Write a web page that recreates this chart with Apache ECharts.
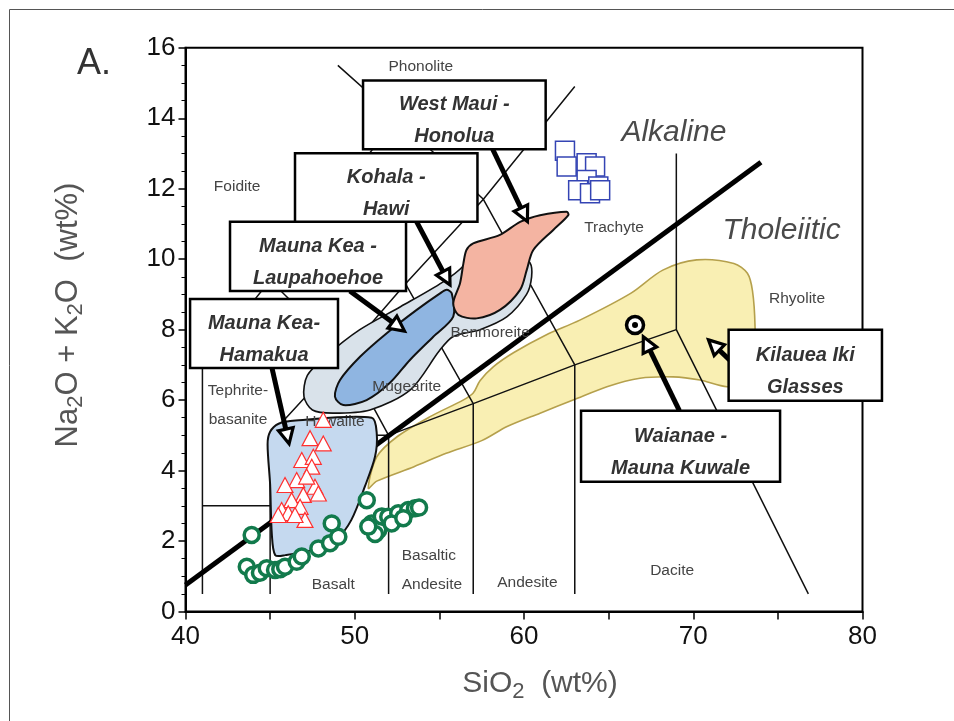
<!DOCTYPE html>
<html><head><meta charset="utf-8">
<script src="https://cdn.jsdelivr.net/npm/echarts@6/dist/echarts.min.js"></script>
<style>html,body{margin:0;padding:0;background:#fff}#c{width:954px;height:721px}</style>
</head><body><div id="c"></div><script>
// ---------- DATA (SiO2 wt%, Na2O+K2O wt%) ----------
const xTicks = [40, 50, 60, 70, 80];
const yTicks = [0, 2, 4, 6, 8, 10, 12, 14, 16];

// TAS classification boundaries
const tasLines = [
  [[41,0.5],[41,7],[45,9.4]],
  [[41,3],[45,3]],
  [[45,0.5],[45,5],[52,5]],
  [[45,5],[49.4,7.3],[52,5]],
  [[52,0.5],[52,5],[57,5.9],[63,7],[69,8],[76.8,0.5]],
  [[57,0.5],[57,5.9],[53,9.3],[57.6,11.7],[63,14.9]],
  [[63,0.5],[63,7],[57.6,11.7],[52.5,14],[49,15.5]],
  [[45,9.4],[49.4,7.3],[53,9.3]],
  [[45,9.4],[48.4,11.5],[53,9.3]],
  [[48.4,11.5],[52.5,14]],
  [[69,8],[69,13]]
];
const alkalineDivide = [[40,0.75],[74,12.75]];

// compositional fields
const kilaueaField = [[50.8,3.5],[51.3,4.39],[52.5,4.96],[54.45,5.53],[56.4,6.0],[57.0,6.2],[57.4,6.55],[58.2,6.95],[59.4,7.35],[61.3,7.85],[63.3,8.27],[66.3,9.03],[68.2,9.69],[70.2,9.98],[72.4,9.88],[73.2,9.6],[73.5,9.1],[73.65,8.1],[73.6,7.0],[73.2,6.5],[72.0,6.38],[70.4,6.57],[68.8,6.66],[66.85,6.62],[64.9,6.38],[62.9,6.0],[60.95,5.63],[59.0,5.25],[57.5,4.85],[55.4,4.49],[53.5,4.11],[51.3,3.7]];
const laupahoehoeEnvelope = [[47.2,6.7],[47.0,6.1],[47.5,5.72],[48.7,5.63],[50.9,5.72],[53.3,6.3],[55.0,7.4],[55.8,7.8],[57.4,8.0],[59.0,8.37],[60.15,9.0],[60.45,9.5],[60.35,9.9],[59.5,10.2],[57.0,10.25],[56.4,9.8],[55.2,9.35],[52.7,8.65],[50.3,8.0],[48.3,7.25]];
const laupahoehoeField = [[55.43,9.13],[55.73,9.03],[55.82,8.37],[54.64,7.8],[53.26,7.14],[52.08,6.49],[50.7,6.0],[49.32,5.86],[48.83,6.1],[49.13,6.57],[50.31,7.23],[51.89,7.9],[53.66,8.56],[55.04,9.03]];
const honoluaField = [[56.6,10.26],[57.0,10.45],[58.58,10.69],[59.77,11.06],[60.95,11.25],[62.52,11.35],[62.62,11.25],[61.73,10.83],[60.55,10.26],[60.16,9.69],[59.77,9.13],[58.58,8.56],[57.2,8.32],[56.12,8.42],[55.82,8.75],[56.22,9.32],[56.42,9.88]];
const hamakuaField = [[44.85,4.75],[45.0,5.1],[45.5,5.33],[46.5,5.42],[51.0,5.5],[51.3,5.05],[51.2,4.4],[50.6,3.55],[49.8,2.6],[49.0,2.1],[47.5,1.75],[45.9,1.6],[45.3,1.6],[45.1,2.2],[45.0,3.6]];

// samples
const redTriangles = [[48.14,5.44],[47.36,4.92],[48.14,4.77],[46.87,4.3],[47.55,4.39],[47.46,4.11],[46.57,3.73],[47.65,3.54],[45.88,3.59],[46.96,3.31],[46.27,3.16],[46.77,2.97],[45.68,2.88],[46.07,2.79],[47.06,2.6],[45.48,2.74],[47.85,3.35],[47.16,3.83],[46.47,2.74]];
const greenCircles = [[43.91,2.17],[43.62,1.27],[44.0,1.04],[44.4,1.1],[44.8,1.23],[45.29,1.18],[45.6,1.2],[45.88,1.27],[46.57,1.41],[46.87,1.56],[47.85,1.79],[48.54,1.94],[49.03,2.12],[48.64,2.5],[50.71,3.16],[51.0,2.5],[51.49,2.5],[51.39,2.31],[51.2,2.2],[51.6,2.7],[51.98,2.69],[52.57,2.79],[53.16,2.88],[53.56,2.93],[53.8,2.95],[50.8,2.41],[52.18,2.5],[52.87,2.65]];
const blueSquares = [[62.42,13.08],[62.52,12.63],[63.7,12.72],[64.2,12.63],[63.7,12.25],[63.2,11.96],[64.39,12.06],[63.9,11.87],[64.5,11.96]];
const waianaeGlass = [[66.56,8.13]];

// region names
const regionNames = ['Phonolite','Foidite','Trachyte','Rhyolite','Tephrite-','basanite','Hawaiite','Mugearite','Benmoreite','Basalt','Basaltic','Andesite','Andesite','Dacite'];
const regionAt = [[53.9,15.46],[43.05,12.05],[65.32,10.88],[76.13,8.87],[43.1,6.26],[43.1,5.44],[48.83,5.39],[53.07,6.38],[58.0,7.91],[48.73,0.75],[54.38,1.59],[54.56,0.76],[60.2,0.81],[68.75,1.15]];
const seriesNames = ['Alkaline','Tholeiitic'];
const seriesNameAt = [[68.86,13.6],[75.22,10.8]];

// annotation boxes: [xmin, xmax, ymin, ymax] in data units, and their texts
const boxTexts = [['Mauna Kea-','Hamakua'],['Mauna Kea -','Laupahoehoe'],['Kohala -','Hawi'],['West Maui -','Honolua'],['Kilauea Iki','Glasses'],['Waianae -','Mauna Kuwale']];
const boxAt = [[40.27,49.01,6.91,8.87],[42.63,53.03,9.1,11.06],[46.47,57.25,11.06,13.01],[50.49,61.28,13.12,15.07],[72.09,81.15,5.98,8.0],[63.37,75.13,3.68,5.7]];
// arrows: [fromX, fromY, toX, toY]
const arrowsAt = [[45.11,6.91,46.12,4.76],[49.71,9.1,52.94,7.96],[53.66,11.06,55.63,9.27],[58.15,13.12,60.2,11.07],[69.18,5.7,67.05,7.8],[72.3,7.07,70.9,7.71]];

// ---------- STYLE ----------
const FONT = '"Liberation Sans", Arial, Helvetica, sans-serif';
const fieldStyles = [
  {fill:'#d9e2ea', stroke:'#111', lw:1.6},
  {fill:'#8fb5e1', stroke:'#111', lw:2},
  {fill:'#f4b4a2', stroke:'#111', lw:2},
  {fill:'#c5d9ef', stroke:'#111', lw:2}
];
const upperFields = [laupahoehoeEnvelope, laupahoehoeField, honoluaField, hamakuaField];

const chart = echarts.init(document.getElementById('c'), null, {renderer:'canvas'});

const series = [];
// yellow field (below lines)
series.push({
  type:'custom', z:2, silent:true, clip:false,
  data:[kilaueaField[0]],
  renderItem:(p, api) => ({type:'polygon', shape:{points:kilaueaField.map(q=>api.coord(q)), smooth:0.3},
    style:{fill:'#f9efb3', stroke:'#b5a04c', lineWidth:1.6}})
});
tasLines.forEach(l => series.push({
  type:'line', z:3, silent:true, data:l, symbol:'none', animation:false,
  lineStyle:{color:'#111', width:1.5}
}));
series.push({type:'line', z:4, silent:true, data:alkalineDivide, symbol:'none', lineStyle:{color:'#000', width:5}});
series.push({
  type:'custom', z:5, silent:true, clip:false,
  data:upperFields.map(f=>f[0]),
  renderItem:(p, api) => {
    const f = upperFields[p.dataIndex], s = fieldStyles[p.dataIndex];
    return {type:'polygon', shape:{points:f.map(q=>api.coord(q)), smooth:0.3},
      style:{fill:s.fill, stroke:s.stroke, lineWidth:s.lw}};
  }
});
series.push({
  type:'custom', z:6, silent:true, clip:false,
  data:regionAt,
  renderItem:(p, api) => {
    const c = api.coord(regionAt[p.dataIndex]);
    return {type:'text', x:c[0], y:c[1], style:{text:regionNames[p.dataIndex], fill:'#444',
      font:'15.5px ' + FONT, align:'center', verticalAlign:'middle'}};
  }
});
series.push({
  type:'custom', z:6, silent:true, clip:false,
  data:seriesNameAt,
  renderItem:(p, api) => {
    const c = api.coord(seriesNameAt[p.dataIndex]);
    return {type:'text', x:c[0], y:c[1], style:{text:seriesNames[p.dataIndex], fill:'#4a4a4a',
      font:'italic 30px ' + FONT, align:'center', verticalAlign:'middle'}};
  }
});
series.push({type:'scatter', z:7, silent:true, data:greenCircles, symbol:'circle', symbolSize:15,
  itemStyle:{color:'#fff', borderColor:'#127a4c', borderWidth:3.5, opacity:1}});
series.push({type:'scatter', z:7, silent:true, data:redTriangles, symbol:'triangle', symbolSize:[16,15],
  itemStyle:{color:'#fff', borderColor:'#ff3030', borderWidth:1.2, opacity:1}});
series.push({type:'scatter', z:7, silent:true, data:blueSquares, symbol:'rect', symbolSize:19,
  itemStyle:{color:'#fff', borderColor:'#3444b4', borderWidth:1.5, opacity:1}});
series.push({type:'scatter', z:7, silent:true, data:waianaeGlass, symbol:'circle', symbolSize:17,
  itemStyle:{color:'#fff', borderColor:'#000', borderWidth:3.5, opacity:1}});
series.push({type:'scatter', z:7, silent:true, data:waianaeGlass, symbol:'circle', symbolSize:6,
  itemStyle:{color:'#000', opacity:1}});
// arrows
series.push({
  type:'custom', z:8, silent:true, clip:false,
  data:arrowsAt.map(a=>[a[2],a[3]]),
  renderItem:(p, api) => {
    const a = arrowsAt[p.dataIndex];
    const p0 = api.coord([a[0],a[1]]), p1 = api.coord([a[2],a[3]]);
    const dx = p1[0]-p0[0], dy = p1[1]-p0[1], L = Math.hypot(dx,dy);
    const ux = dx/L, uy = dy/L, nx = -uy, ny = ux;
    const hl = 15, hw = 7.5;
    const bx = p1[0]-ux*hl, by = p1[1]-uy*hl;
    return {type:'group', children:[
      {type:'line', shape:{x1:p0[0], y1:p0[1], x2:bx, y2:by}, style:{stroke:'#000', lineWidth:5}},
      {type:'polygon', shape:{points:[[p1[0],p1[1]],[bx+nx*hw,by+ny*hw],[bx-nx*hw,by-ny*hw]]},
        style:{fill:'#fff', stroke:'#000', lineWidth:3.2, lineJoin:'miter'}}
    ]};
  }
});
// boxes
series.push({
  type:'custom', z:9, silent:true, clip:false,
  data:boxAt.map(b=>[b[0],b[2]]),
  renderItem:(p, api) => {
    const b = boxAt[p.dataIndex];
    const tl = api.coord([b[0],b[3]]), br = api.coord([b[1],b[2]]);
    const cx = (tl[0]+br[0])/2, cy = (tl[1]+br[1])/2;
    return {type:'group', children:[
      {type:'rect', shape:{x:tl[0], y:tl[1], width:br[0]-tl[0], height:br[1]-tl[1]},
        style:{fill:'#fff', stroke:'#000', lineWidth:2.5}},
      {type:'text', x:cx, y:cy+6, style:{text:boxTexts[p.dataIndex].join('\n'), fill:'#333',
        font:'italic bold 20px ' + FONT, lineHeight:32, align:'center', verticalAlign:'middle'}}
    ]};
  }
});

chart.setOption({
  animation:false,
  grid:{left:185.5, right:91.5, top:47.8, bottom:109.5, show:true, borderColor:'#000', borderWidth:2, backgroundColor:'transparent'},
  xAxis:{type:'value', min:40, max:80, interval:5,
    axisLine:{show:true, onZero:false, lineStyle:{color:'#000', width:2}},
    axisTick:{show:true, length:8, lineStyle:{color:'#000', width:1.5}},
    axisLabel:{margin:12, fontSize:26, color:'#111', fontFamily:FONT,
      formatter:v => xTicks.includes(v) ? String(v) : ''},
    splitLine:{show:false}},
  yAxis:{type:'value', min:0, max:16, interval:2,
    axisLine:{show:true, onZero:false, lineStyle:{color:'#000', width:2}},
    axisTick:{show:true, length:7, lineStyle:{color:'#000', width:1.5}},
    minorTick:{show:true, splitNumber:4, length:4, lineStyle:{color:'#000', width:1}},
    axisLabel:{margin:10, fontSize:26, color:'#111', fontFamily:FONT,
      formatter:v => yTicks.includes(v) ? String(v) : ''},
    splitLine:{show:false}},
  graphic:[
    {type:'rect', left:7, top:7, silent:true, shape:{width:960, height:730}, style:{fill:'none', stroke:'#555', lineWidth:1}},
    {type:'text', x:94, y:64, silent:true, style:{text:'A.', font:'36px ' + FONT, fill:'#333', align:'center', verticalAlign:'middle'}},
    {type:'text', x:540, y:684, silent:true, style:{
      text:'{a|SiO}{b|2}{a|  (wt%)}', align:'center', verticalAlign:'middle',
      rich:{a:{fontSize:30, fontFamily:FONT, fill:'#555'}, b:{fontSize:22, fontFamily:FONT, fill:'#555', padding:[16,0,0,0]}}}},
    {type:'text', x:68, y:315, rotation:Math.PI/2, silent:true, style:{
      text:'{a|Na}{b|2}{a|O + K}{b|2}{a|O  (wt%)}', align:'center', verticalAlign:'middle',
      rich:{a:{fontSize:31, fontFamily:FONT, fill:'#555'}, b:{fontSize:22, fontFamily:FONT, fill:'#555', padding:[16,0,0,0]}}}}
  ],
  series:series
});
</script></body></html>
